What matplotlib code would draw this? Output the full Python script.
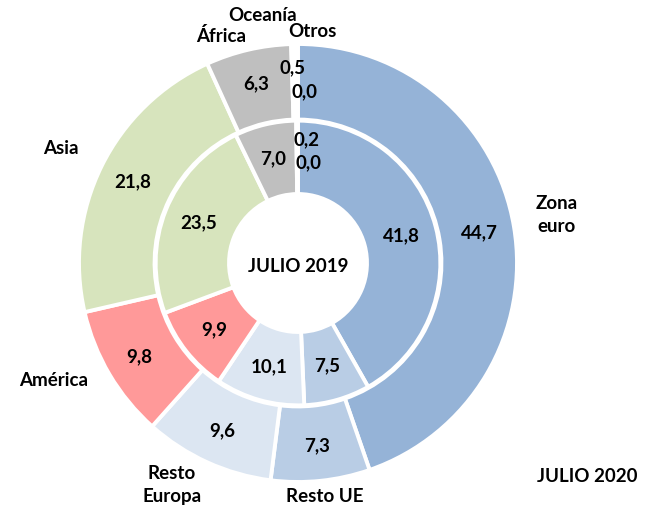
import numpy as np
import matplotlib.pyplot as plt

plt.rcParams['font.family'] = ['Lato', 'DejaVu Sans']

regiones = ['Zona euro', 'Resto UE', 'Resto Europa', 'América', 'Asia',
            'África', 'Oceanía', 'Otros']
julio_2020 = [44.7, 7.3, 9.6, 9.8, 21.8, 6.3, 0.5, 0.0]
julio_2019 = [41.8, 7.5, 10.1, 9.9, 23.5, 7.0, 0.2, 0.0]
colores = ['#95B3D7', '#B9CDE5', '#DCE6F2', '#FF9999', '#D7E4BD',
           '#BFBFBF', '#FFFFFF', '#95B3D7']

W, H = 654, 509
cx, cy, R = 298, 263, 219  # centre and outer radius in pixels

fig = plt.figure(figsize=(W / 100, H / 100), dpi=100)
ax = fig.add_axes([0, 0, 1, 1])
ax.axis('off')


def px(x, y):
    # pixel position in the picture -> data coords
    return (x - cx) / R, (cy - y) / R


wp = dict(edgecolor='white', linewidth=2.8)
ax.pie(julio_2020, radius=1.0, colors=colores, startangle=90,
       counterclock=False, wedgeprops=dict(width=0.345, **wp), frame=False)
ax.pie(julio_2019, radius=0.65, colors=colores, startangle=90,
       counterclock=False, wedgeprops=dict(width=0.335, **wp), frame=False)
ax.set_xlim(-cx / R, (W - cx) / R)
ax.set_ylim(-(H - cy) / R, cy / R)
ax.set_aspect('auto')


def etiquetas(vals, r):
    tot = sum(vals)
    acum = 0
    pos = []
    for v in vals:
        mid = 90 - (acum + v / 2) / tot * 360
        acum += v
        a = np.deg2rad(mid)
        pos.append((r * np.cos(a), r * np.sin(a)))
    return pos


txt = dict(fontsize=13.5, fontweight='bold', ha='center', va='center')

pos_ext = etiquetas(julio_2020, 0.84)
pos_ext[6] = px(292, 68)
pos_ext[7] = px(305, 92)
for (x, y), v in zip(pos_ext, julio_2020):
    ax.text(x, y, f'{v:.1f}'.replace('.', ','), **txt)

pos_int = etiquetas(julio_2019, 0.49)
pos_int[6] = px(307, 140)
pos_int[7] = px(309, 163)
for (x, y), v in zip(pos_int, julio_2019):
    ax.text(x, y, f'{v:.1f}'.replace('.', ','), **txt)

nombres = {
    'Zona euro': (557, 215, 'Zona\neuro'),
    'Resto UE': (325, 496, 'Resto UE'),
    'Resto Europa': (172, 485, 'Resto\nEuropa'),
    'América': (54, 380, 'América'),
    'Asia': (61, 148, 'Asia'),
    'África': (221, 36, 'África'),
    'Oceanía': (263, 15, 'Oceanía'),
    'Otros': (312, 31, 'Otros'),
}
for reg in regiones:
    x, y, s = nombres[reg]
    ax.text(*px(x, y), s, linespacing=1.4, **txt)

ax.text(*px(298, 266), 'JULIO 2019', **txt)
ax.text(*px(587, 476), 'JULIO 2020', **txt)

fig.savefig('out.png', dpi=100)
